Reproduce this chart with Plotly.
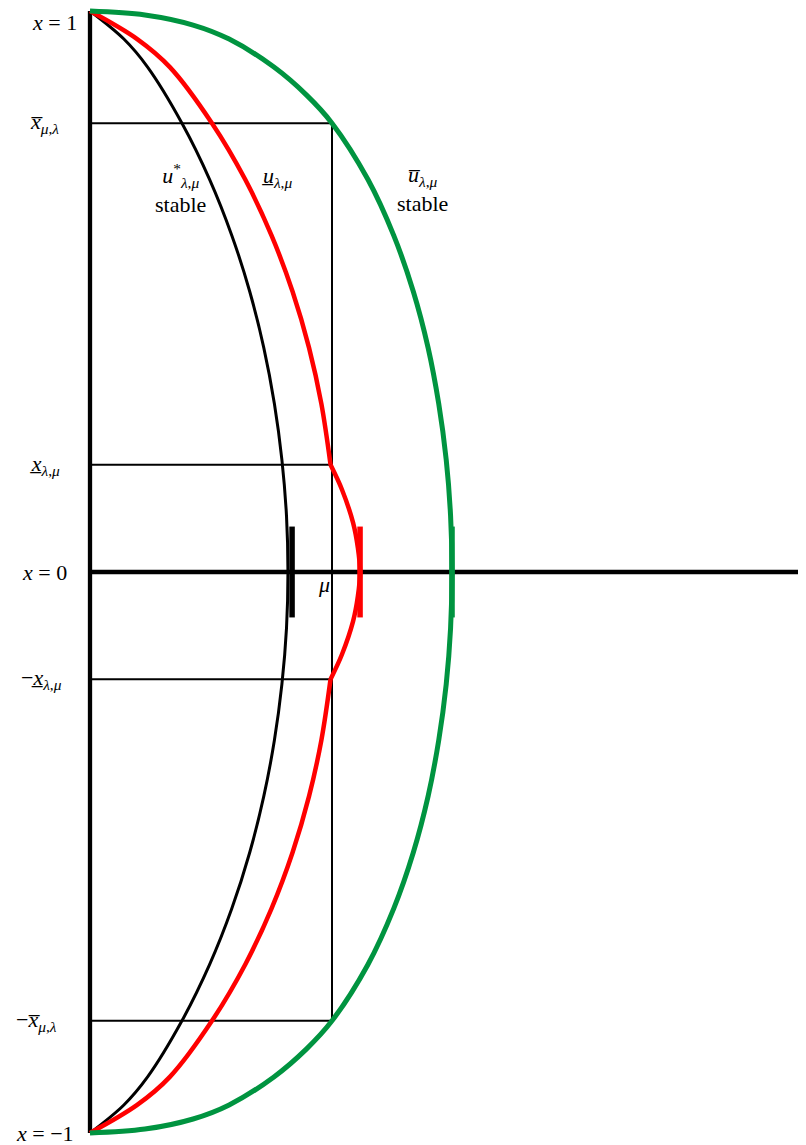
import plotly.graph_objects as go

# curve samples: vertical position x in [-1, 1], horizontal value u (mu = 1)
black_x = [1.0, 0.95, 0.9, 0.8, 0.7, 0.6, 0.5, 0.4, 0.3, 0.2, 0.1, 0.0,
           -0.1, -0.2, -0.3, -0.4, -0.5, -0.6, -0.7, -0.8, -0.9, -0.95, -1.0]
black_u = [0.0, 0.140, 0.238, 0.380, 0.494, 0.586, 0.660, 0.718, 0.762, 0.793, 0.812, 0.818,
           0.812, 0.793, 0.762, 0.718, 0.660, 0.586, 0.494, 0.380, 0.238, 0.140, 0.0]

red_top_x = [1.0, 0.95, 0.9, 0.8, 0.7, 0.6, 0.5, 0.4, 0.3, 0.191]
red_top_u = [0.0, 0.195, 0.330, 0.504, 0.641, 0.750, 0.837, 0.905, 0.956, 0.994]
red_mid_x = [0.191, 0.147, 0.088, 0.043, 0.0, -0.043, -0.088, -0.147, -0.191]
red_mid_u = [0.994, 1.041, 1.087, 1.107, 1.116, 1.107, 1.087, 1.041, 0.994]
red_bot_x = [-0.191, -0.3, -0.4, -0.5, -0.6, -0.7, -0.8, -0.9, -0.95, -1.0]
red_bot_u = [0.994, 0.956, 0.905, 0.837, 0.750, 0.641, 0.504, 0.330, 0.195, 0.0]

green_x = [1.0, 0.993, 0.975, 0.95, 0.9, 0.85, 0.8, 0.7, 0.6, 0.5, 0.4, 0.3, 0.2, 0.1, 0.0,
           -0.1, -0.2, -0.3, -0.4, -0.5, -0.6, -0.7, -0.8, -0.85, -0.9, -0.95, -0.975, -0.993, -1.0]
green_u = [0.0, 0.227, 0.426, 0.575, 0.760, 0.895, 1.0, 1.148, 1.255, 1.336, 1.397, 1.441, 1.472, 1.490, 1.496,
           1.490, 1.472, 1.441, 1.397, 1.336, 1.255, 1.148, 1.0, 0.895, 0.760, 0.575, 0.426, 0.227, 0.0]

mu = 1.0
x_bar = 0.8
x_under = 0.191
u_end = 2.96
tick_half = 0.081
tick_u = [0.835, 1.116, 1.496]  # black, red, green

level_vals = [1.0, x_bar, x_under, 0.0, -x_under, -x_bar, -1.0]
level_text = ["<i>x</i> = 1",
              "<i>x̅</i><sub><i>μ</i>,<i>λ</i></sub>",
              "<i>x̲</i><sub><i>λ</i>,<i>μ</i></sub>",
              "<i>x</i> = 0",
              "−<i>x̲</i><sub><i>λ</i>,<i>μ</i></sub>",
              "−<i>x̅</i><sub><i>μ</i>,<i>λ</i></sub>",
              "<i>x</i> = −1"]

GREEN = "#009440"
RED = "#ff0000"

fig = go.Figure()

# thin guide lines
for lv in [x_bar, x_under, -x_under, -x_bar]:
    fig.add_trace(go.Scatter(x=[0, mu], y=[lv, lv], mode="lines",
                             line=dict(color="black", width=2)))
fig.add_trace(go.Scatter(x=[mu, mu], y=[-x_bar, x_bar], mode="lines",
                         line=dict(color="black", width=2)))

# axes
fig.add_trace(go.Scatter(x=[0, 0], y=[-1, 1], mode="lines", line=dict(color="black", width=4.3)))
fig.add_trace(go.Scatter(x=[0, u_end], y=[0, 0], mode="lines", line=dict(color="black", width=4.3)))

# curves
fig.add_trace(go.Scatter(x=black_u, y=black_x, mode="lines",
                         line=dict(color="black", width=3, shape="spline", smoothing=1)))
for xs, us in [(red_top_x, red_top_u), (red_mid_x, red_mid_u), (red_bot_x, red_bot_u)]:
    fig.add_trace(go.Scatter(x=us, y=xs, mode="lines",
                             line=dict(color=RED, width=4.5, shape="spline", smoothing=1)))
fig.add_trace(go.Scatter(x=green_u, y=green_x, mode="lines",
                         line=dict(color=GREEN, width=5, shape="spline", smoothing=1)))

# thick ticks on the axis
for tu, col in zip(tick_u, ["black", RED, GREEN]):
    fig.add_trace(go.Scatter(x=[tu, tu], y=[-tick_half, tick_half], mode="lines",
                             line=dict(color=col, width=5.5)))

font = dict(family="Liberation Serif", size=22, color="black")
annotations = []
label_u = [-0.145, -0.186, -0.186, -0.190, -0.202, -0.223, -0.186]
for i, (lv, txt, lu) in enumerate(zip(level_vals, level_text, label_u)):
    a = dict(x=lu, y=lv, text=txt, showarrow=False, font=font, xanchor="center", yanchor="middle")
    if i == 0:
        a.update(y=1.00535, yanchor="top")
    annotations.append(a)

annotations += [
    dict(x=0.372, y=0.683, text="<i>u</i><sup>*</sup><sub><i>λ</i>,<i>μ</i></sub><br>stable",
         showarrow=False, font=font),
    dict(x=0.773, y=0.704, text="<i>u̲</i><sub><i>λ</i>,<i>μ</i></sub>", showarrow=False, font=font),
    dict(x=1.376, y=0.683, text="<i>u̅</i><sub><i>λ</i>,<i>μ</i></sub><br>stable",
         showarrow=False, font=font),
    dict(x=0.965, y=-0.022, text="<i>μ</i>", showarrow=False, font=font),
]

# page body has an 8px margin, so the figure is 8px smaller than the window
fig.update_layout(
    width=798, height=1137,
    margin=dict(l=0, r=0, t=0, b=0),
    plot_bgcolor="white", paper_bgcolor="white",
    showlegend=False,
    xaxis=dict(visible=False, range=[-82 / 242, 716 / 242]),
    yaxis=dict(visible=False, range=[-1.02139, 1.00535]),
    annotations=annotations,
)

fig.write_html("out.html")
